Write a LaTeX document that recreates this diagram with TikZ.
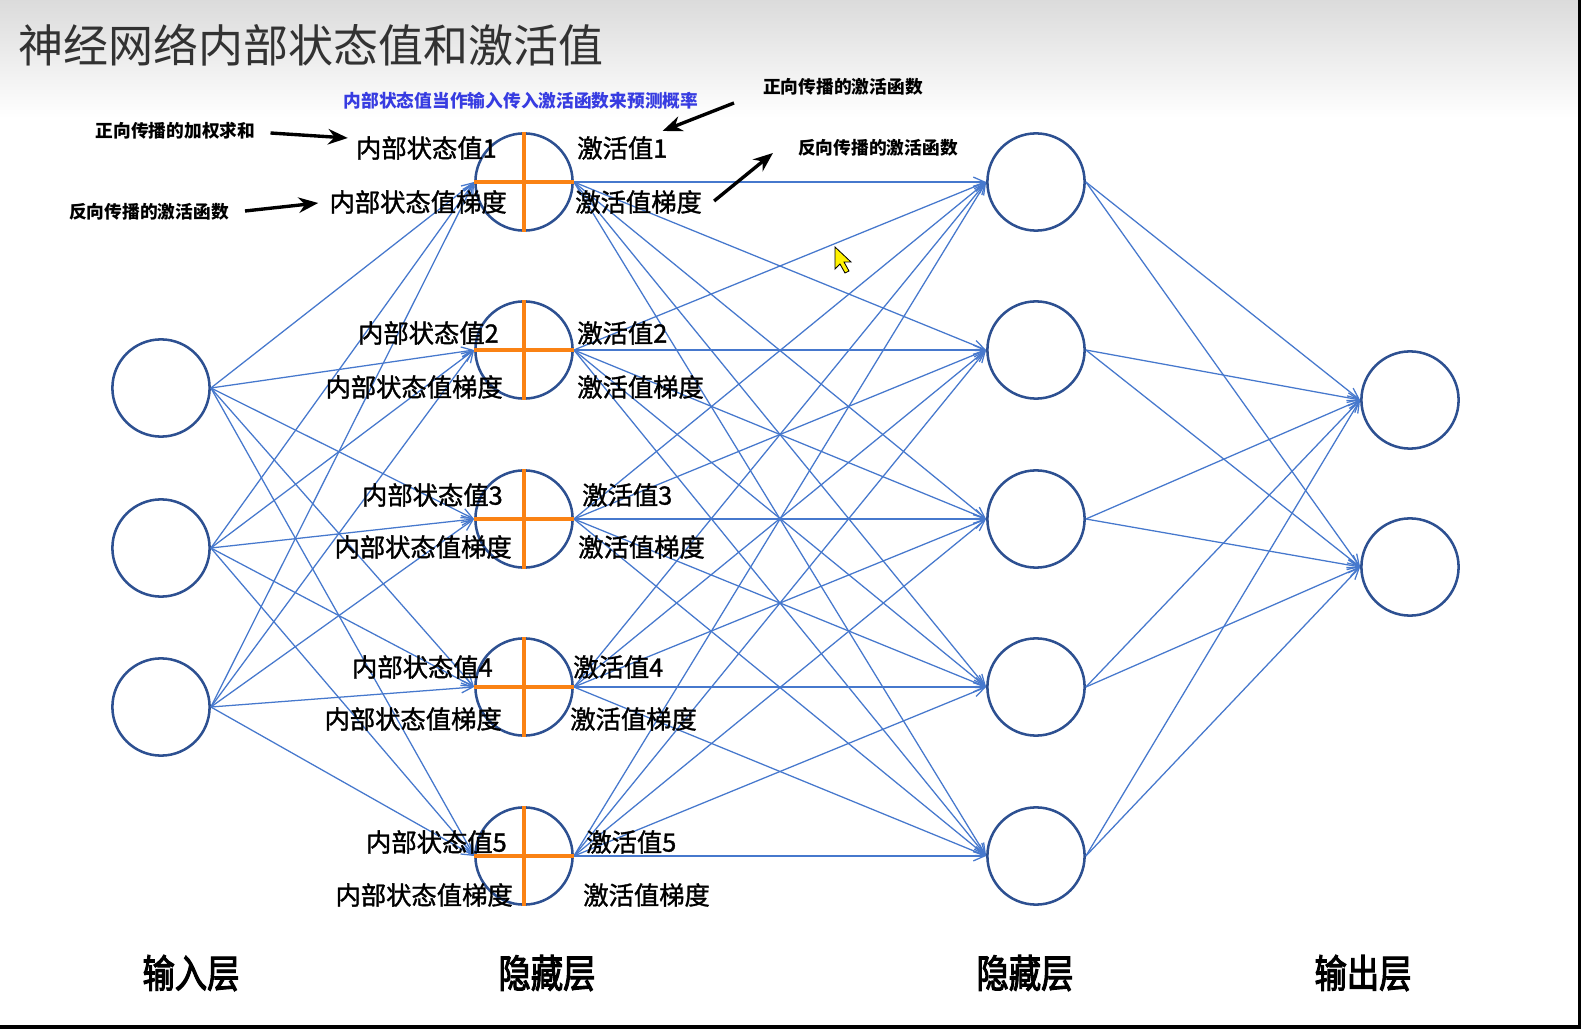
\documentclass[tikz,border=0pt]{standalone}
\usepackage{fontspec}
\usepackage{graphicx}
\setmainfont{Noto Sans CJK SC}
\newfontfamily\midfont{Noto Sans CJK SC}[FakeBold=1.3]
\newfontfamily\layfont{Noto Sans CJK SC}[FakeBold=3]
\usetikzlibrary{arrows.meta,calc}
\definecolor{circline}{RGB}{45,80,145}
\definecolor{edgeblue}{RGB}{70,120,205}
\definecolor{crossorange}{RGB}{250,130,20}
\definecolor{noteblue}{RGB}{55,60,225}
\definecolor{titlegray}{RGB}{50,50,50}

\begin{document}
\begin{tikzpicture}[x=0.025cm,y=-0.025cm,font=\fontsize{18pt}{20pt}\midfont]
\tikzset{
  NE/.style={circle,draw=circline,line width=1.8pt,minimum size=2.43cm,inner sep=0pt},
  ED/.style={edgeblue,line width=0.9pt,-{Straight Barb[length=8pt,width=7pt]}},
  CR/.style={crossorange,line width=2.2pt},
  LB/.style={inner sep=0pt,text=black},
  AN/.style={font=\fontsize{12.6pt}{14pt}\selectfont\bfseries,inner sep=0pt},
  CA/.style={-{Stealth[length=14pt,width=11pt]},line width=2.4pt,black},
  LY/.style={font=\fontsize{23pt}{26pt}\layfont,inner sep=0pt},
}
\useasboundingbox (0,0) rectangle (1581,1029);
\fill[white](0,0) rectangle (1581,1029);
\shade[top color=gray!28,bottom color=white](0,0) rectangle (1581,118);
\fill[black](1578,0) rectangle (1581,1029);
\fill[black](0,1025) rectangle (1581,1029);

\node[anchor=west,inner sep=0pt,text=titlegray,font=\fontsize{32pt}{34pt}\selectfont](title) at (18,45){神经网络内部状态值和激活值};

\node[NE](in1) at (161,388){};
\node[NE](in2) at (161,548){};
\node[NE](in3) at (161,707){};

\node[NE](hA1) at (524,182){};
\node[NE](hA2) at (524,350){};
\node[NE](hA3) at (524,519){};
\node[NE](hA4) at (524,687){};
\node[NE](hA5) at (524,856){};

\node[NE](hB1) at (1036,182){};
\node[NE](hB2) at (1036,350){};
\node[NE](hB3) at (1036,519){};
\node[NE](hB4) at (1036,687){};
\node[NE](hB5) at (1036,856){};

\node[NE](out1) at (1410,400){};
\node[NE](out2) at (1410,567){};

\foreach \i in {1,2,3}{\foreach \j in {1,...,5}{\draw[ED](in\i.east)--(hA\j.west);}}
\foreach \i in {1,...,5}{\foreach \j in {1,...,5}{\draw[ED](hA\i.east)--(hB\j.west);}}
\foreach \i in {1,...,5}{\foreach \j in {1,2}{\draw[ED](hB\i.east)--(out\j.west);}}
\foreach \j in {1,...,5}{\draw[CR](hA\j.west)--(hA\j.east) (hA\j.north)--(hA\j.south);}

\node[LB,anchor=east](s1) at (497,148){内部状态值1};
\node[LB,anchor=east](g1) at (507,202){内部状态值梯度};
\node[LB,anchor=west](a1) at (577,148){激活值1};
\node[LB,anchor=west](d1) at (575,202){激活值梯度};

\node[LB,anchor=east](s2) at (499,333){内部状态值2};
\node[LB,anchor=east](g2) at (503,387){内部状态值梯度};
\node[LB,anchor=west](a2) at (577,333){激活值2};
\node[LB,anchor=west](d2) at (577,387){激活值梯度};

\node[LB,anchor=east](s3) at (503,495){内部状态值3};
\node[LB,anchor=east](g3) at (512,547){内部状态值梯度};
\node[LB,anchor=west](a3) at (582,495){激活值3};
\node[LB,anchor=west](d3) at (578,547){激活值梯度};

\node[LB,anchor=east](s4) at (493,667){内部状态值4};
\node[LB,anchor=east](g4) at (502,719){内部状态值梯度};
\node[LB,anchor=west](a4) at (573,667){激活值4};
\node[LB,anchor=west](d4) at (570,719){激活值梯度};

\node[LB,anchor=east](s5) at (507,842){内部状态值5};
\node[LB,anchor=east](g5) at (513,895){内部状态值梯度};
\node[LB,anchor=west](a5) at (586,842){激活值5};
\node[LB,anchor=west](d5) at (583,895){激活值梯度};

\node[AN](fwdsum)  at (175.5,131){正向传播的加权求和};
\node[AN](bwdact)  at (149,212){反向传播的激活函数};
\node[AN,text=noteblue](predict) at (521,101){内部状态值当作输入传入激活函数来预测概率};
\node[AN](fwdact)  at (843,87){正向传播的激活函数};
\node[AN](bwdgrad) at (878,148){反向传播的激活函数};

\draw[CA]($(fwdsum.east)+(15,2)$)--($(s1.west)+(-8,-10)$);
\draw[CA]($(bwdact.east)+(16,-1)$)--($(g1.west)+(-11,1)$);
\draw[CA]($(fwdact.west)+(-29,16)$)--($(a1.east)+(-5,-17)$);
\draw[CA]($(d1.east)+(12,-1)$)--($(bwdgrad.west)+(-25,5)$);

\node[LY](lin)  at (191,973){\scalebox{1}[1.2]{输入层}};
\node[LY](lhA)  at (547,973){\scalebox{1}[1.2]{隐藏层}};
\node[LY](lhB)  at (1025,973){\scalebox{1}[1.2]{隐藏层}};
\node[LY](lout) at (1363,973){\scalebox{1}[1.2]{输出层}};

\filldraw[fill=yellow,draw=black,line width=0.6pt](835,247)--(835,269)--(840,264)--(845,273)--(849,271)--(844,262)--(851,262)--cycle;

\end{tikzpicture}
\end{document}
